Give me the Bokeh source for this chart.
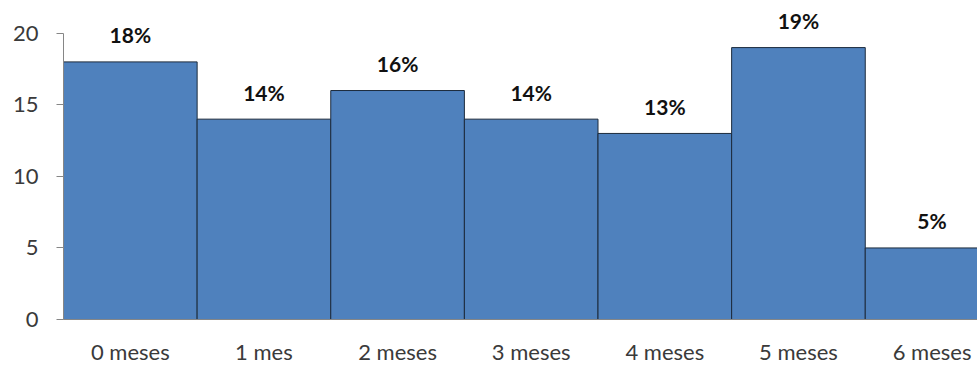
from bokeh.plotting import figure
from bokeh.models import ColumnDataSource, LabelSet, Range1d, FixedTicker
from bokeh.core.properties import value
from bokeh.embed import file_html
from bokeh.resources import INLINE

# Months since start and the count in each group
categories = ["0 meses", "1 mes", "2 meses", "3 meses", "4 meses", "5 meses", "6 meses"]
counts = [18, 14, 16, 14, 13, 19, 5]
percent_labels = ["18%", "14%", "16%", "14%", "13%", "19%", "5%"]
y_ticks = [0, 5, 10, 15, 20]

centers = [i + 0.5 for i in range(len(categories))]
source = ColumnDataSource(dict(x=centers, top=counts, label=percent_labels))

# Headroom above 20 so the value labels stay inside the frame;
# the left axis line itself stops at 20.
p = figure(
    width=977, height=367,
    output_backend="svg", toolbar_location=None,
    x_range=Range1d(0, 6.84), y_range=Range1d(0, 22.29),
    min_border_left=63, min_border_right=0,
    min_border_top=0, min_border_bottom=46,
)
p.outline_line_color = None
p.background_fill_color = "white"
p.border_fill_color = "white"
p.xgrid.visible = False
p.ygrid.visible = False

p.vbar(x="x", top="top", width=1.0, bottom=0, source=source,
       fill_color="#4F81BD", line_color="#1C2B3C", line_width=1)

labels = LabelSet(x="x", y="top", text="label", source=source,
                  text_align="center", text_baseline="middle", y_offset=27,
                  text_font=value("Lato"), text_font_style="bold",
                  text_font_size="21px", text_color="#111111")
p.add_layout(labels)

axis_gray = "#868686"
tick_color = "#3a3a3a"

p.yaxis.ticker = FixedTicker(ticks=y_ticks)
p.yaxis.bounds = (0, 20)
p.yaxis.axis_line_color = axis_gray
p.yaxis.major_tick_line_color = axis_gray
p.yaxis.major_tick_out = 7
p.yaxis.major_tick_in = 0
p.yaxis.minor_tick_line_color = None
p.yaxis.major_label_standoff = 18
p.yaxis.major_label_text_font = "Lato"
p.yaxis.major_label_text_font_size = "22px"
p.yaxis.major_label_text_color = tick_color

p.xaxis.ticker = FixedTicker(ticks=centers)
p.xaxis.major_label_overrides = {c: name for c, name in zip(centers, categories)}
p.xaxis.axis_line_color = axis_gray
p.xaxis.major_tick_line_color = None
p.xaxis.major_tick_out = 0
p.xaxis.major_tick_in = 0
p.xaxis.minor_tick_line_color = None
p.xaxis.major_label_standoff = 18
p.xaxis.major_label_text_font = "Lato"
p.xaxis.major_label_text_font_size = "22px"
p.xaxis.major_label_text_color = tick_color

with open("out.html", "w") as f:
    f.write(file_html(p, INLINE))
